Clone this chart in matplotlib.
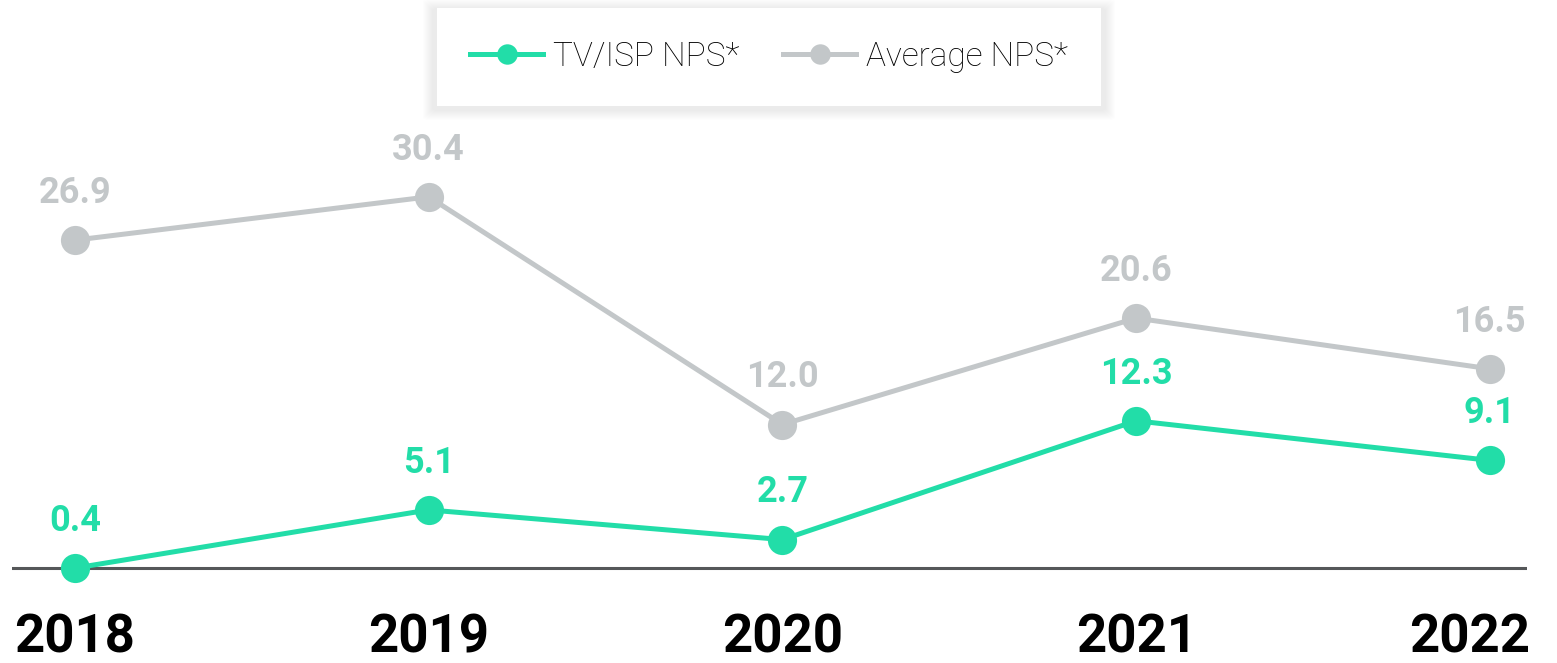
import matplotlib
matplotlib.use('Agg')
import matplotlib.pyplot as plt
from matplotlib.patches import FancyBboxPatch

plt.rcParams['font.family'] = ['Roboto', 'DejaVu Sans']

years = ['2018', '2019', '2020', '2021', '2022']
tv_isp_nps = [0.4, 5.1, 2.7, 12.3, 9.1]
average_nps = [26.9, 30.4, 12.0, 20.6, 16.5]

teal = '#22DDA8'
grey = '#C3C7C9'

fig = plt.figure(figsize=(15.57, 6.63), dpi=100)
ax = fig.add_axes([12 / 1557, 63 / 663, 1515 / 1557, 470 / 663])

x = list(range(len(years)))
ax.plot(x, average_nps, color=grey, lw=3.6, marker='o', markersize=21,
        markeredgewidth=0, label='Average NPS*', zorder=3)
ax.plot(x, tv_isp_nps, color=teal, lw=3.6, marker='o', markersize=21,
        markeredgewidth=0, label='TV/ISP NPS*', zorder=4)
ax.axhline(0.4, color='#555759', lw=2.2, zorder=2)

# value labels above each point
for xi, v in zip(x, average_nps):
    ax.annotate(f'{v:.1f}', (xi, v), xytext=(0, 21), textcoords='offset points',
                ha='center', va='bottom', color=grey, fontsize=26, fontweight='bold')
for xi, v in zip(x, tv_isp_nps):
    ax.annotate(f'{v:.1f}', (xi, v), xytext=(0, 21), textcoords='offset points',
                ha='center', va='bottom', color=teal, fontsize=26, fontweight='bold')

# year labels under the baseline
for xi, yr in zip(x, years):
    if xi == len(years) - 1:
        ax.annotate(yr, (1, 0.4), xycoords=('axes fraction', 'data'), xytext=(2, -32),
                    textcoords='offset points', ha='right', va='top',
                    fontsize=38, fontweight='bold', color='black')
    else:
        ax.annotate(yr, (xi, 0.4), xytext=(0, -32), textcoords='offset points',
                    ha='center', va='top', fontsize=38, fontweight='bold', color='black')

ax.set_xlim(-0.178, 4.105)
ax.set_ylim(-2.18, 35.8)
ax.axis('off')

# legend with a soft shadow behind it
handles, labels = ax.get_legend_handles_labels()
leg = fig.legend(handles[::-1], labels[::-1], loc='center',
                 bbox_to_anchor=(769 / 1557, 1 - 57 / 663), ncol=2,
                 frameon=True, fancybox=False, edgecolor='none', framealpha=1,
                 fontsize=24, handlelength=2.2, handletextpad=0.3,
                 columnspacing=1.3, borderpad=1.0, markerscale=0.7)
for t in leg.get_texts():
    t.set_fontweight('light')
leg.set_zorder(10)

x0, y0, w, h = 433 / 1557, 1 - 108 / 663, 672 / 1557, 101 / 663
for i in range(10):
    d = i + 1
    fig.patches.append(FancyBboxPatch((x0 - d / 1557, y0 - (d + 2) / 663),
                                      w + 2 * d / 1557, h + 2 * d / 663,
                                      boxstyle='round,pad=0,rounding_size=0.004',
                                      transform=fig.transFigure,
                                      facecolor='black', edgecolor='none', alpha=0.006,
                                      zorder=0))

fig.savefig('out.png', dpi=100, facecolor='white')
